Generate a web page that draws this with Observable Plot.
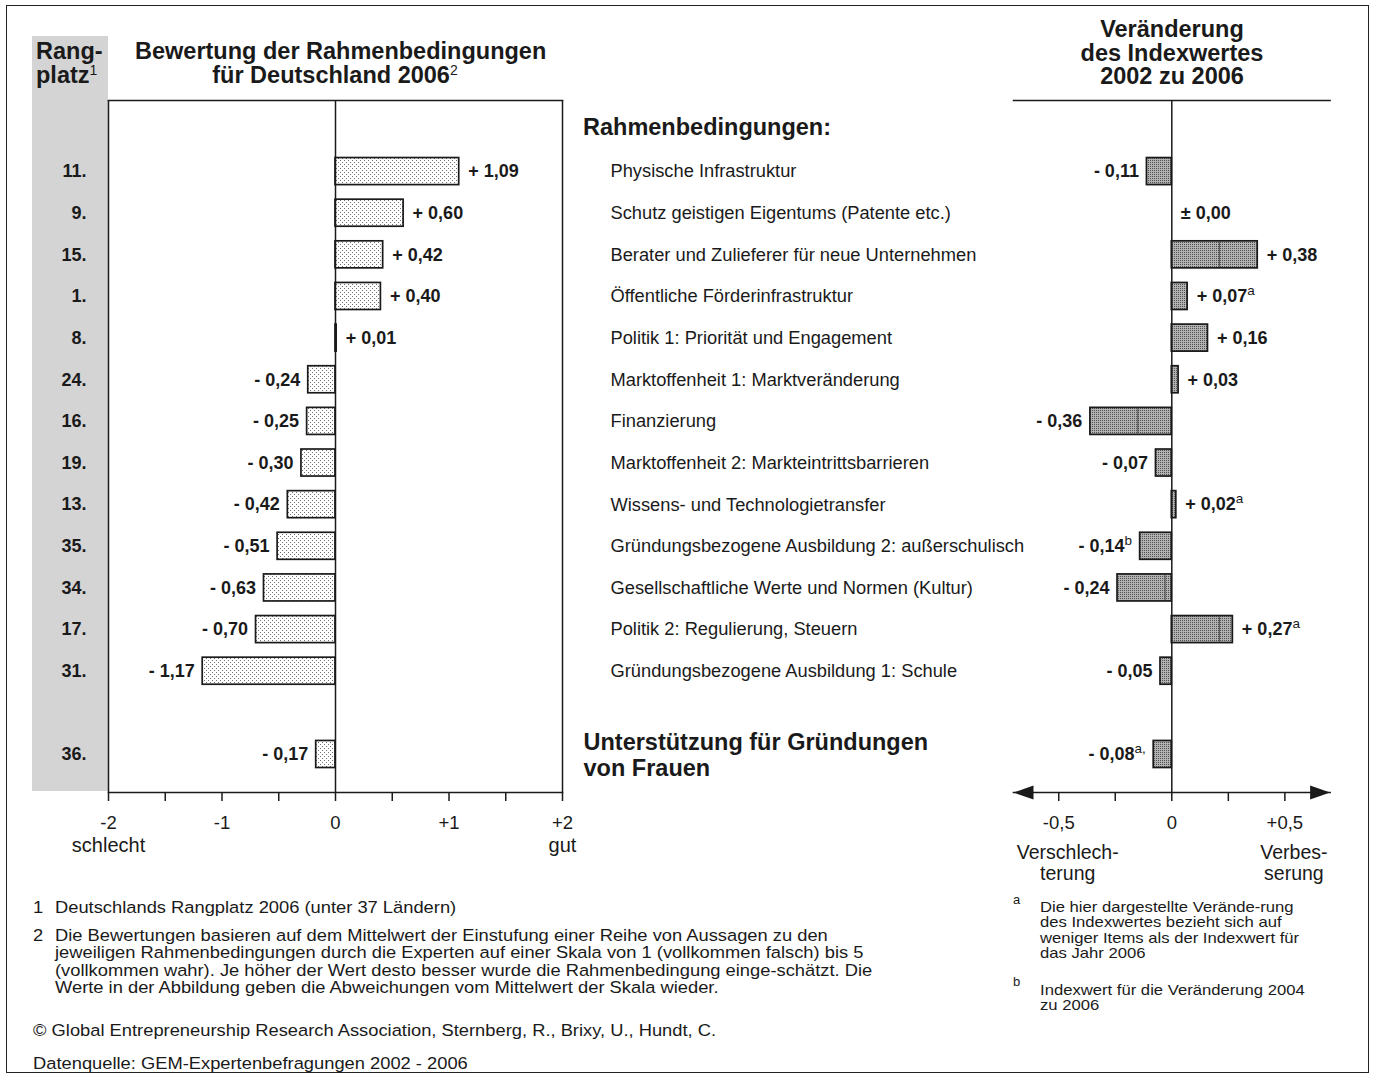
<!DOCTYPE html>
<html><head><meta charset="utf-8">
<script src="https://cdn.jsdelivr.net/npm/d3@7"></script>
<script src="https://cdn.jsdelivr.net/npm/@observablehq/plot@0.6"></script>
<style>
body{margin:0;background:#fff;font-family:"Liberation Sans",Arial,Helvetica,sans-serif;color:#1a1a1a}
#wrap{position:relative;width:1375px;height:1075px;overflow:hidden;background:#fff}
.abs{position:absolute;white-space:nowrap}
.h{font-weight:bold;font-size:23.5px;line-height:23.5px}
.h sup{font-size:14px;font-weight:normal;vertical-align:0;position:relative;top:-8px}
.fn{font-size:16.3px;line-height:17.3px;transform:scaleX(1.125);transform-origin:0 0}
.fr{font-size:15px;line-height:15.4px;transform:scaleX(1.11);transform-origin:0 0}
.plotbox{position:absolute;top:0}
</style></head><body>
<svg width="0" height="0" style="position:absolute">
 <defs>
  <pattern id="dotsL" width="4" height="4" patternUnits="userSpaceOnUse">
   <rect width="4" height="4" fill="#ffffff"/>
   <rect x="0" y="0" width="1" height="1" fill="#707070"/>
   <rect x="2" y="2" width="1" height="1" fill="#707070"/>
  </pattern>
  <pattern id="dotsR" width="2" height="2" patternUnits="userSpaceOnUse">
   <rect width="2" height="2" fill="#b2b2b2"/>
   <rect x="0" y="0" width="1" height="1" fill="#505050"/>
  </pattern>
 </defs>
</svg>
<div id="wrap">
 <div class="abs" style="left:6px;top:5px;width:1361px;height:1066px;border:1.6px solid #222"></div>
 <div class="abs" style="left:32px;top:36px;width:76px;height:755px;background:#d4d4d4"></div>
 <div class="abs h" style="left:36px;top:40px">Rang-<br>platz<sup>1</sup></div>
 <div class="abs h" style="left:135px;top:40px;width:400px;text-align:center">Bewertung der Rahmenbedingungen<br>für Deutschland 2006<sup>2</sup></div>
 <div class="abs h" style="left:1022px;top:18px;width:300px;text-align:center">Veränderung<br>des Indexwertes<br>2002 zu 2006</div>
 <div class="abs h" style="left:583px;top:116px">Rahmenbedingungen:</div>
 <div id="left" class="plotbox" style="left:0px"></div>
 <div id="right" class="plotbox" style="left:570px"></div>

 <div class="abs fn" style="left:33px;top:899px">1</div>
 <div class="abs fn" style="left:55px;top:899px">Deutschlands Rangplatz 2006 (unter 37 Ländern)</div>
 <div class="abs fn" style="left:33px;top:927px">2</div>
 <div class="abs fn" style="left:55px;top:927px">Die Bewertungen basieren auf dem Mittelwert der Einstufung einer Reihe von Aussagen zu den<br>jeweiligen Rahmenbedingungen durch die Experten auf einer Skala von 1 (vollkommen falsch) bis 5<br>(vollkommen wahr). Je höher der Wert desto besser wurde die Rahmenbedingung einge-schätzt. Die<br>Werte in der Abbildung geben die Abweichungen vom Mittelwert der Skala wieder.</div>
 <div class="abs fn" style="left:33px;top:1022px">© Global Entrepreneurship Research Association, Sternberg, R., Brixy, U., Hundt, C.</div>
 <div class="abs fn" style="left:33px;top:1055px">Datenquelle: GEM-Expertenbefragungen 2002 - 2006</div>

 <div class="abs" style="left:1013px;top:893px;font-size:13px;line-height:13px">a</div>
 <div class="abs fr" style="left:1040px;top:899px">Die hier dargestellte Verände-rung<br>des Indexwertes bezieht sich auf<br>weniger Items als der Indexwert für<br>das Jahr 2006</div>
 <div class="abs" style="left:1013px;top:975px;font-size:13px;line-height:13px">b</div>
 <div class="abs fr" style="left:1040px;top:982px">Indexwert für die Veränderung 2004<br>zu 2006</div>
</div>
<script>
// ---------- data ----------
const categories = [
  "Physische Infrastruktur",
  "Schutz geistigen Eigentums (Patente etc.)",
  "Berater und Zulieferer für neue Unternehmen",
  "Öffentliche Förderinfrastruktur",
  "Politik 1: Priorität und Engagement",
  "Marktoffenheit 1: Marktveränderung",
  "Finanzierung",
  "Marktoffenheit 2: Markteintrittsbarrieren",
  "Wissens- und Technologietransfer",
  "Gründungsbezogene Ausbildung 2: außerschulisch",
  "Gesellschaftliche Werte und Normen (Kultur)",
  "Politik 2: Regulierung, Steuern",
  "Gründungsbezogene Ausbildung 1: Schule",
  "Unterstützung für Gründungen\nvon Frauen"
];
const ranks = [11, 9, 15, 1, 8, 24, 16, 19, 13, 35, 34, 17, 31, 36];
const ratings2006 = [1.09, 0.60, 0.42, 0.40, 0.01, -0.24, -0.25, -0.30, -0.42, -0.51, -0.63, -0.70, -1.17, -0.17];
const change0206 = [-0.11, 0.00, 0.38, 0.07, 0.16, 0.03, -0.36, -0.07, 0.02, -0.14, -0.24, 0.27, -0.05, -0.08];
const changeNotes = ["", "", "", "a", "", "", "", "", "a", "b", "", "a", "", "a,"];
const innerLineCats = ["Berater und Zulieferer für neue Unternehmen", "Finanzierung", "Gesellschaftliche Werte und Normen (Kultur)", "Politik 2: Regulierung, Steuern"];
const innerLineValues = [0.21, -0.15, -0.03, 0.21];
const leftTickValues = [-2, -1.5, -1, -0.5, 0, 0.5, 1, 1.5, 2];
const leftTickLabels = ["-2", "", "-1", "", "0", "", "+1", "", "+2"];
const leftEndValues = [-2, 2];
const leftEndLabels = ["schlecht", "gut"];
const rightTickValues = [-0.5, -0.25, 0, 0.25, 0.5];
const rightTickLabels = ["-0,5", "", "0", "", "+0,5"];
const rightEndValues = [-0.5, 0.5];
const rightEndLabels = ["Verschlech-\nterung", "Verbes-\nserung"];
const spacer = " ";

// ---------- tables ----------
const rows = categories.map((c, i) => ({cat: c, rank: ranks[i], rating: ratings2006[i], change: change0206[i], note: changeNotes[i]}));
const yDomain = [...categories.slice(0, 13), spacer, categories[13]];
const innerLines = innerLineCats.map((c, i) => ({cat: c, x: innerLineValues[i]}));
const leftTickMap = new Map(leftTickValues.map((v, i) => [v, leftTickLabels[i]]));
const rightTickMap = new Map(rightTickValues.map((v, i) => [v, rightTickLabels[i]]));
const leftEnds = leftEndValues.map((v, i) => ({x: v, label: leftEndLabels[i]}));
const rightEnds = rightEndValues.map((v, i) => ({x: v, label: rightEndLabels[i]}));

const fmt = v => (v > 0 ? "+ " : v < 0 ? "- " : "± ") + Math.abs(v).toFixed(2).replace(".", ",");
const FONT = '"Liberation Sans", Arial, Helvetica, sans-serif';
const INK = "#1a1a1a";
const yScale = {domain: yDomain, paddingInner: 0, paddingOuter: 0.81, align: 0.745, round: false, axis: null};
const H = 880, MT = 100, MB = 88;
const barInset = 7.3;

// ---------- left chart ----------
const left = Plot.plot({
  width: 600, height: H, marginLeft: 108, marginRight: 38, marginTop: MT, marginBottom: MB,
  x: {domain: [-2, 2]},
  y: yScale,
  style: {fontFamily: FONT, fontSize: "18px", color: INK, background: "none", overflow: "visible"},
  marks: [
    Plot.barX(rows, {x: "rating", y: "cat", fill: "url(#dotsL)", stroke: INK, strokeWidth: 1.7, insetTop: barInset, insetBottom: barInset}),
    Plot.ruleX([-2, 0, 2], {stroke: INK, strokeWidth: 1.5}),
    Plot.frame({anchor: "top", stroke: INK, strokeWidth: 1.5}),
    Plot.frame({anchor: "bottom", stroke: INK, strokeWidth: 1.5}),
    Plot.axisX({anchor: "bottom", ticks: leftTickValues, tickSize: 9, tickPadding: 14, strokeWidth: 1.5,
      tickFormat: d => leftTickMap.get(d), fontSize: 18.5, label: null}),
    Plot.text(rows.filter(d => d.rating > 0), {x: "rating", y: "cat", text: d => fmt(d.rating), dx: 9, textAnchor: "start", fontWeight: "bold", fontSize: 18}),
    Plot.text(rows.filter(d => d.rating <= 0), {x: "rating", y: "cat", text: d => fmt(d.rating), dx: -8, textAnchor: "end", fontWeight: "bold", fontSize: 18}),
    Plot.text(rows, {y: "cat", text: d => d.rank + ".", frameAnchor: "left", dx: -22, textAnchor: "end", fontWeight: "bold", fontSize: 18}),
    Plot.text(leftEnds, {x: "x", text: "label", frameAnchor: "bottom", dy: 53, lineAnchor: "middle", fontSize: 20})
  ]
});
document.getElementById("left").appendChild(left);

// ---------- right chart ----------
const arrowRight = {draw(ctx) { ctx.moveTo(0, 0); ctx.lineTo(-20, -7); ctx.lineTo(-20, 7); ctx.closePath(); }};
const arrowLeft = {draw(ctx) { ctx.moveTo(0, 0); ctx.lineTo(20, -7); ctx.lineTo(20, 7); ctx.closePath(); }};
const labelText = d => fmt(d.change) + "|" + d.note;
const right = Plot.plot({
  width: 805, height: H, marginLeft: 443, marginRight: 45.4, marginTop: MT, marginBottom: MB,
  x: {domain: [-0.7, 0.7]},
  y: yScale,
  style: {fontFamily: FONT, fontSize: "18px", color: INK, background: "none", overflow: "visible"},
  marks: [
    Plot.barX(rows, {x: "change", y: "cat", fill: "url(#dotsR)", stroke: INK, strokeWidth: 1.7, insetTop: barInset, insetBottom: barInset}),
    Plot.tickX(innerLines, {x: "x", y: "cat", stroke: "#444", strokeWidth: 1, insetTop: barInset + 1, insetBottom: barInset + 1}),
    Plot.ruleX([0], {stroke: INK, strokeWidth: 1.5}),
    Plot.frame({anchor: "top", stroke: INK, strokeWidth: 1.5}),
    Plot.frame({anchor: "bottom", stroke: INK, strokeWidth: 1.7}),
    Plot.axisX({anchor: "bottom", ticks: rightTickValues, tickSize: 9, tickPadding: 14, strokeWidth: 1.5,
      tickFormat: d => rightTickMap.get(d), fontSize: 18.5, label: null}),
    Plot.dot([0.7], {x: d => d, frameAnchor: "bottom", symbol: arrowRight, fill: INK, stroke: "none"}),
    Plot.dot([-0.7], {x: d => d, frameAnchor: "bottom", symbol: arrowLeft, fill: INK, stroke: "none"}),
    Plot.text(rows.filter(d => d.change >= 0), {x: "change", y: "cat", text: labelText, dx: 9, textAnchor: "start", fontWeight: "bold", fontSize: 18}),
    Plot.text(rows.filter(d => d.change < 0), {x: "change", y: "cat", text: labelText, dx: -8, textAnchor: "end", fontWeight: "bold", fontSize: 18}),
    Plot.text(rows.slice(0, 13), {y: "cat", text: "cat", frameAnchor: "left", dx: -403, textAnchor: "start", fontSize: 18.3}),
    Plot.text(rows.slice(13), {y: "cat", text: "cat", frameAnchor: "left", dx: -430, textAnchor: "start", fontWeight: "bold", fontSize: 23.5, lineHeight: 1.1}),
    Plot.text(rightEnds, {x: "x", text: "label", frameAnchor: "bottom", dx: 9, dy: 70, lineAnchor: "middle", fontSize: 19.5, lineHeight: 1.08})
  ]
});
document.getElementById("right").appendChild(right);

// superscripts on the change labels
const NS = "http://www.w3.org/2000/svg";
right.querySelectorAll("text").forEach(t => {
  const s = t.textContent;
  if (!s.includes("|")) return;
  const [main, sup] = s.split("|");
  t.textContent = "";
  const a = document.createElementNS(NS, "tspan");
  a.textContent = main;
  t.appendChild(a);
  if (sup) {
    const b = document.createElementNS(NS, "tspan");
    b.setAttribute("font-size", "13.5");
    b.setAttribute("font-weight", "normal");
    b.setAttribute("dy", "-7");
    b.textContent = sup;
    t.appendChild(b);
  }
});
</script>
</body></html>
